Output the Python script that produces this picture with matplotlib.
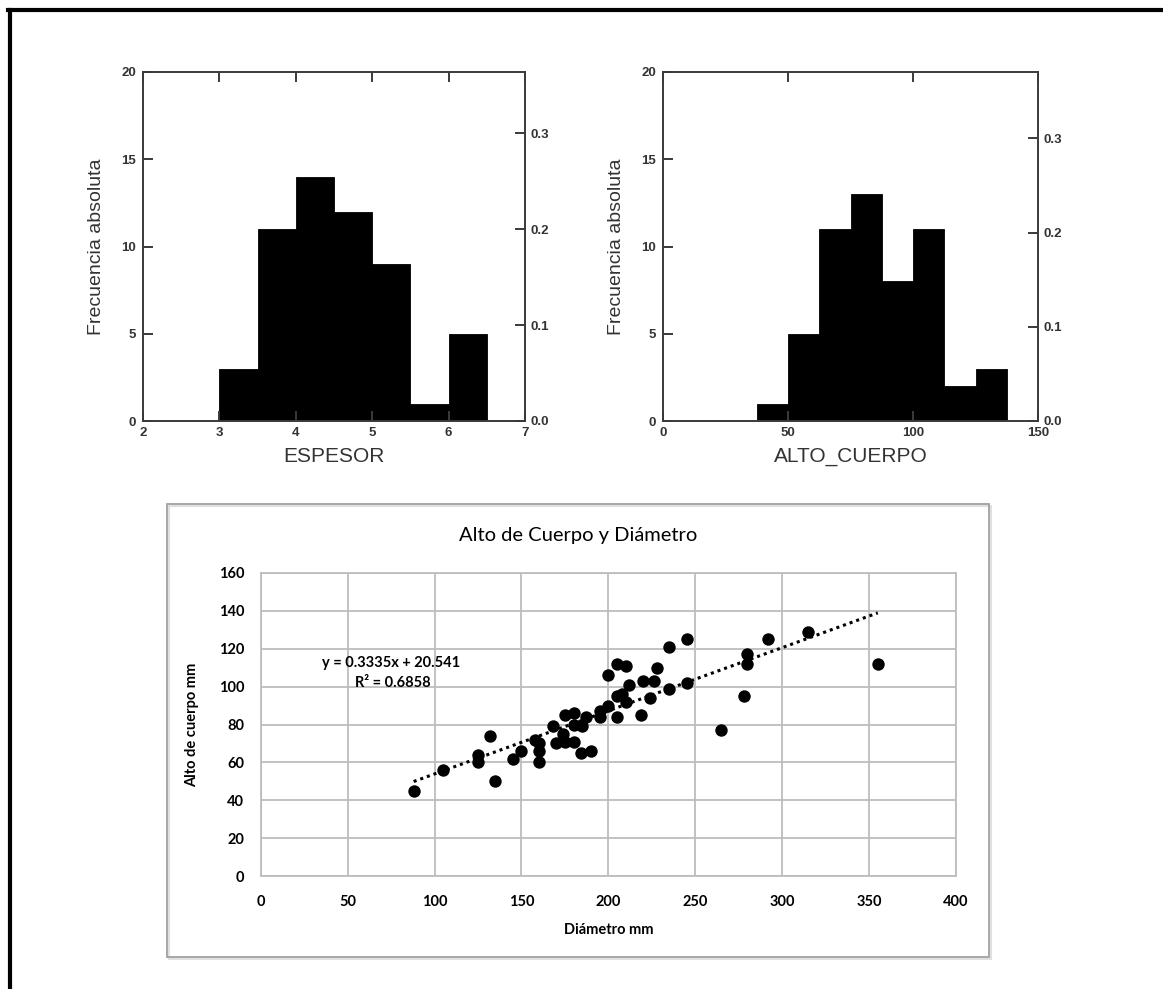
import numpy as np
import matplotlib
matplotlib.use("Agg")
import matplotlib.pyplot as plt
from matplotlib.patches import Rectangle
from matplotlib.lines import Line2D

# ---------------- data ----------------
esp_edges = [3.0, 3.5, 4.0, 4.5, 5.0, 5.5, 6.0, 6.5]
esp_counts = [3, 11, 14, 12, 9, 1, 5]
esp_n = 55

alto_edges = [37.5, 50, 62.5, 75, 87.5, 100, 112.5, 125, 137.5]
alto_counts = [1, 5, 11, 13, 8, 11, 2, 3]
alto_n = 54

diametro = [88, 105, 125, 125, 132, 135, 145, 150, 158, 160, 160, 160,
            168, 170, 174, 175, 175, 180, 180, 185, 180, 184, 187, 190,
            195, 195, 200, 200, 205, 210, 205, 208, 210, 205, 212, 219,
            220, 226, 224, 228, 235, 235, 245, 245, 265, 278, 280, 280,
            292, 315, 355]
alto_cuerpo = [45, 56, 64, 60, 74, 50, 62, 66, 72, 70, 66, 60,
               79, 70, 75, 85, 71, 86, 80, 79, 71, 65, 84, 66,
               87, 84, 90, 106, 112, 111, 95, 96, 92, 84, 101, 85,
               103, 103, 94, 110, 121, 99, 125, 102, 77, 95, 117, 112,
               125, 129, 112]
slope, intercept = 0.3335, 20.541
eq_text = "y = 0.3335x + 20.541"
r2_text = "R² = 0.6858"

W, H = 1163, 989
fig = plt.figure(figsize=(W / 100, H / 100), dpi=100)
fig.patch.set_facecolor("white")

HFONT = "Liberation Sans"
SFONT = "Lato"
axcol = "#3a3a3a"


def fx(px):
    return px / W


def fy(py):
    return 1 - py / H


def histogram(left, right, edges, counts, n, xlim, xticks, xlabel):
    top, bottom = 72, 421
    ax = fig.add_axes([fx(left), fy(bottom), fx(right - left), (bottom - top) / H])
    widths = np.diff(edges)
    ax.bar(edges[:-1], counts, width=widths, align="edge", color="black",
           edgecolor="black", linewidth=0.6)
    ax.set_xlim(*xlim)
    ax.set_ylim(0, 20)
    ax.set_xticks(xticks)
    ax.set_yticks([0, 5, 10, 15, 20])
    for s in ax.spines.values():
        s.set_color(axcol)
        s.set_linewidth(1.4)
    ax.tick_params(axis="x", direction="in", top=True, bottom=True, length=7,
                   width=1.4, color=axcol, labelsize=9.5, pad=4, labelcolor="#333")
    ax.tick_params(axis="y", direction="in", left=True, right=False, length=7,
                   width=1.4, color=axcol, labelsize=9.5, pad=5, labelcolor="#333")
    for lab in ax.get_xticklabels() + ax.get_yticklabels():
        lab.set_fontfamily(HFONT)
        lab.set_fontweight("bold")
    ax.set_xlabel(xlabel, fontsize=15, family=HFONT, color="#333", labelpad=6)
    ax.set_ylabel("Frecuencia absoluta", fontsize=14, family=HFONT, color="#333",
                  labelpad=12)
    ax2 = ax.twinx()
    ax2.set_ylim(0, 20 / n)
    ax2.set_yticks([0.0, 0.1, 0.2, 0.3])
    ax2.set_yticklabels(["0.0", "0.1", "0.2", "0.3"])
    for s in ax2.spines.values():
        s.set_visible(False)
    ax2.tick_params(axis="y", direction="in", length=7, width=1.4, color=axcol,
                    labelsize=9.5, pad=4, labelcolor="#333")
    for lab in ax2.get_yticklabels():
        lab.set_fontfamily(HFONT)
        lab.set_fontweight("bold")
    return ax


histogram(143, 525, esp_edges, esp_counts, esp_n, (2, 7), [2, 3, 4, 5, 6, 7], "ESPESOR")
histogram(663, 1038, alto_edges, alto_counts, alto_n, (0, 150), [0, 50, 100, 150], "ALTO_CUERPO")

# ---------------- scatter panel ----------------
fig.patches.append(Rectangle((fx(168.5), fy(958.5)), fx(989 - 167), (957 - 504) / H,
                             transform=fig.transFigure, fill=False,
                             edgecolor="#e0e0e0", linewidth=1.5, zorder=0))
fig.patches.append(Rectangle((fx(167), fy(957)), fx(989 - 167), (957 - 504) / H,
                             transform=fig.transFigure, fill=False,
                             edgecolor="#a0a0a0", linewidth=1.3, zorder=1))

ax3 = fig.add_axes([fx(260.7), fy(876), fx(956 - 260.7), (876 - 573) / H])
ax3.set_xlim(0, 400)
ax3.set_ylim(0, 160)
ax3.set_xticks(range(0, 401, 50))
ax3.set_yticks(range(0, 161, 20))
ax3.grid(True, color="#bdbdbd", linewidth=1.3)
ax3.set_axisbelow(True)
for s in ax3.spines.values():
    s.set_color("#bdbdbd")
    s.set_linewidth(1.3)
ax3.tick_params(length=0, labelsize=10.5, colors="black")
ax3.tick_params(axis="y", pad=12)
ax3.tick_params(axis="x", pad=14)
for lab in ax3.get_xticklabels() + ax3.get_yticklabels():
    lab.set_fontfamily(SFONT)
    lab.set_fontweight("bold")

ax3.scatter(diametro, alto_cuerpo, s=80, color="black", zorder=3, linewidths=0)
xfit = np.array([min(diametro), max(diametro)])
ax3.plot(xfit, slope * xfit + intercept, color="black", linestyle=(0, (1, 1.3)),
         linewidth=2.2, zorder=4)

ax3.text(75, 112.5, eq_text, ha="center", va="center", fontsize=10.5,
         family=SFONT, fontweight="bold")
ax3.text(76, 102, r2_text, ha="center", va="center", fontsize=10.5,
         family=SFONT, fontweight="bold")

ax3.set_xlabel("Diámetro mm", fontsize=10.5, family=SFONT, fontweight="bold",
               labelpad=10)
ax3.set_ylabel("Alto de cuerpo mm", fontsize=10.5, family=SFONT, fontweight="bold",
               labelpad=14)
fig.text(fx(578), fy(536), "Alto de Cuerpo y Diámetro", ha="center", va="center",
         fontsize=14.5, family=SFONT)

# outer black border
fig.lines.append(Line2D([fx(9.5), fx(9.5)], [0, fy(10)], transform=fig.transFigure,
                        color="black", linewidth=3))
fig.lines.append(Line2D([fx(8), 1], [fy(10), fy(10)], transform=fig.transFigure,
                        color="black", linewidth=3))

fig.savefig("out.png", dpi=100, facecolor="white")
